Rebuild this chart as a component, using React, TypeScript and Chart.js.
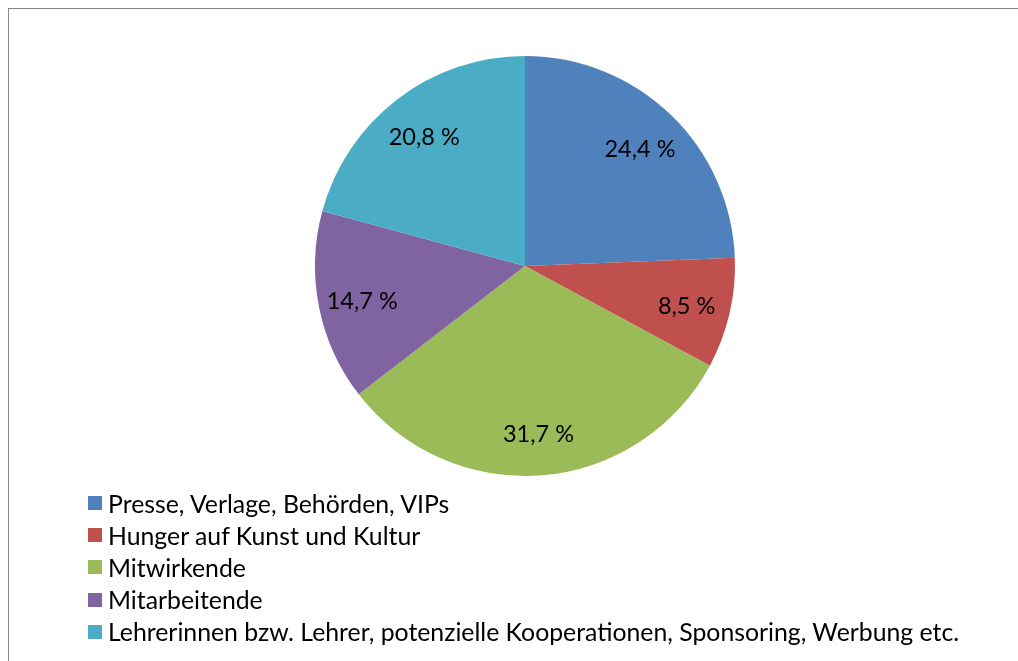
import React, { useEffect, useRef } from "react";
import { Chart, registerables } from "chart.js";

Chart.register(...registerables);

const categories: string[] = [
  "Presse, Verlage, Behörden, VIPs",
  "Hunger auf Kunst und Kultur",
  "Mitwirkende",
  "Mitarbeitende",
  "Lehrerinnen bzw. Lehrer, potenzielle Kooperationen, Sponsoring, Werbung etc.",
];
const values: number[] = [24.4, 8.5, 31.7, 14.7, 20.8];
const valueLabels: string[] = ["24,4 %", "8,5 %", "31,7 %", "14,7 %", "20,8 %"];
const colors: string[] = ["#4F81BD", "#C0504D", "#9BBB59", "#8064A2", "#4BACC6"];

const FONT = "Lato, 'Open Sans', sans-serif";

const labelPlugin = {
  id: "sliceLabels",
  afterDatasetsDraw(chart: any) {
    const ctx = chart.ctx;
    const meta = chart.getDatasetMeta(0);
    ctx.save();
    ctx.fillStyle = "#000";
    ctx.font = `23.5px ${FONT}`;
    ctx.textAlign = "center";
    ctx.textBaseline = "middle";
    meta.data.forEach((arc: any, i: number) => {
      const p = arc.getProps(["x", "y", "startAngle", "endAngle", "outerRadius"], true);
      const mid = (p.startAngle + p.endAngle) / 2;
      const r = p.outerRadius * 0.79;
      ctx.fillText(valueLabels[i], p.x + Math.cos(mid) * r, p.y + Math.sin(mid) * r + 3);
    });
    ctx.restore();
  },
};

export default function App() {
  const ref = useRef<HTMLCanvasElement | null>(null);
  useEffect(() => {
    if (!ref.current) return;
    const chart = new Chart(ref.current, {
      type: "pie",
      data: {
        labels: categories,
        datasets: [
          {
            data: values,
            backgroundColor: colors,
            borderWidth: 0,
          },
        ],
      },
      options: {
        responsive: false,
        animation: false,
        layout: { padding: { top: 47, bottom: 185, left: 306, right: 283 } },
        plugins: { legend: { display: false }, tooltip: { enabled: false } },
      },
      plugins: [labelPlugin],
    });
    return () => chart.destroy();
  }, []);

  return (
    <div
      style={{
        position: "fixed",
        left: 8,
        top: 8,
        width: 1040,
        height: 680,
        borderTop: "1px solid #868686",
        borderLeft: "1px solid #868686",
        background: "#fff",
        overflow: "hidden",
      }}
    >
      <canvas ref={ref} width={1009} height={652} style={{ display: "block" }} />
      <div style={{ position: "absolute", left: 79, top: 478, fontFamily: FONT, fontSize: 24.8, color: "#000" }}>
        {categories.map((c, i) => (
          <div key={c} style={{ display: "flex", alignItems: "center", height: 32.2, whiteSpace: "nowrap" }}>
            <span style={{ display: "inline-block", width: 14, height: 14, background: colors[i], marginRight: 6, flex: "none" }} />
            <span>{c}</span>
          </div>
        ))}
      </div>
    </div>
  );
}
